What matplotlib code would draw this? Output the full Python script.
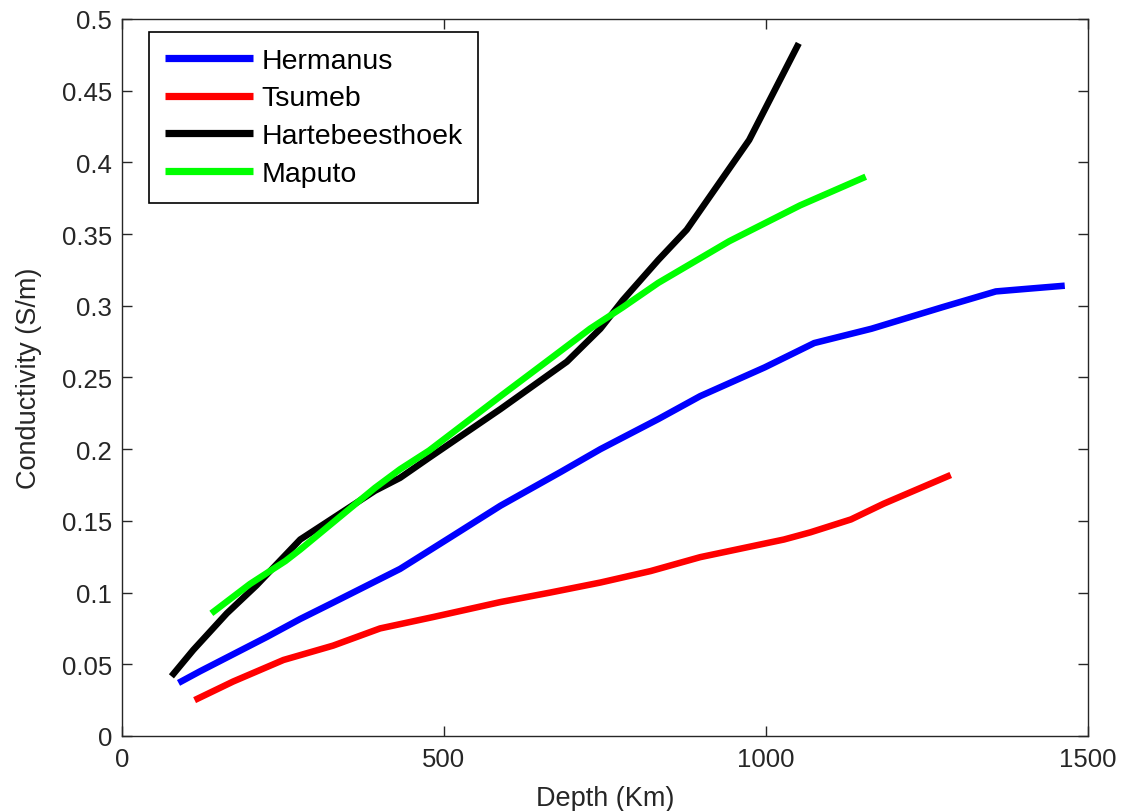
#Conductividad vs profundidad para cuatro estaciones
import matplotlib
matplotlib.use('Agg')
import matplotlib.pyplot as plt
from matplotlib.ticker import FuncFormatter

# Datos
depth_her = [88, 121, 173, 225, 277, 328, 432, 510, 588, 681, 743, 833, 898, 998, 1075, 1164, 1274, 1357,
             1410, 1464]
cond_her = [0.037, 0.045, 0.057, 0.069, 0.0816, 0.093, 0.1165, 0.1385, 0.1606, 0.184, 0.200, 0.221, 0.237,
            0.257, 0.274, 0.284, 0.299, 0.310, 0.312, 0.314]

depth_tsu = [113, 173, 251, 328, 401, 484, 588, 665, 743, 821, 898, 1028, 1069, 1132, 1183, 1235, 1287]
cond_tsu = [0.025, 0.038, 0.053, 0.063, 0.075, 0.083, 0.0934, 0.100, 0.107, 0.115, 0.1247, 0.137, 0.142,
            0.151, 0.162, 0.172, 0.182]

depth_har = [77, 111, 163, 209, 277, 393, 432, 477, 588, 691, 743, 778, 833, 877, 974, 1051]
cond_har = [0.0416, 0.060, 0.0855, 0.105, 0.137, 0.171, 0.180, 0.194, 0.228, 0.261, 0.284, 0.304, 0.332,
            0.353, 0.4156, 0.483]

depth_map = [139, 199, 254, 277, 393, 432, 477, 588, 668, 727, 778, 833, 943, 1053, 1155]
cond_map = [0.0855, 0.106, 0.122, 0.130, 0.173, 0.186, 0.199, 0.237, 0.264, 0.284, 0.299, 0.316, 0.345,
            0.370, 0.390]

etiquetas = ['Hermanus', 'Tsumeb', 'Hartebeesthoek', 'Maputo']
colores = ['#0000ff', '#ff0000', '#000000', '#00ff00']

plt.rcParams['font.family'] = ['Liberation Sans', 'DejaVu Sans']
txt = '#262626'

fig = plt.figure(figsize=(11.28, 8.12), dpi=100)
ax = fig.add_axes([0.108, 0.0924, 0.8565, 0.883])

series = [(depth_her, cond_her), (depth_tsu, cond_tsu), (depth_har, cond_har), (depth_map, cond_map)]
for (x, y), lab, col in zip(series, etiquetas, colores):
    ax.plot(x, y, color=col, lw=4.7, label=lab, solid_capstyle='butt')

ax.set_xlim(0, 1500)
ax.set_ylim(0, 0.5)
ax.set_xticks([0, 500, 1000, 1500])
ax.set_yticks([i * 0.05 for i in range(11)])
ax.yaxis.set_major_formatter(FuncFormatter(lambda v, p: '%g' % round(v, 2)))

ax.tick_params(direction='in', length=7, width=1, top=True, right=True, labelsize=18.5,
               colors=txt, labelcolor=txt)
ax.tick_params(axis='y', pad=7)
ax.tick_params(axis='x', pad=8)
for s in ax.spines.values():
    s.set_color(txt)
    s.set_linewidth(1)

ax.set_xlabel('Depth (Km)', fontsize=19.5, color=txt, labelpad=10)
ax.set_ylabel('Conductivity (S/m)', fontsize=19.5, color=txt, labelpad=14)

leg = ax.legend(loc='upper left', bbox_to_anchor=(0.028, 0.982), borderaxespad=0, fancybox=False,
                framealpha=1, edgecolor='#000000', fontsize=20.5, handlelength=3.1, handletextpad=0.3,
                labelspacing=0.42, borderpad=0.55)
leg.get_frame().set_linewidth(1.2)
for h in leg.get_lines():
    h.set_linewidth(5.2)

fig.savefig('out.png', dpi=100)
